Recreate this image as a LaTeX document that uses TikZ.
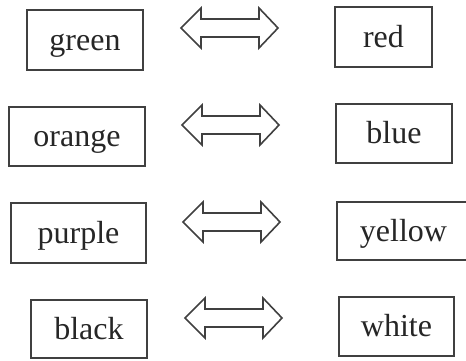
\documentclass[tikz,border=0pt]{standalone}
\usepackage{fontspec}
\setmainfont{Liberation Serif}
\begin{document}
\begin{tikzpicture}[x=1pt,y=-1pt,
  wordbox/.style={draw=black!75,line width=1.6pt,inner sep=0pt,
    text height=28pt,text depth=8pt,text=black!85,
    font=\fontsize{32}{36}\selectfont},
  pics/dblarrow/.style={code={
    \draw[black!75,line width=1.6pt,line join=miter]
      (0,0) -- (20,-20) -- (20,-9) -- (78,-9) -- (78,-20) -- (97,0)
      -- (78,20) -- (78,9) -- (20,9) -- (20,20) -- cycle;}}]
\useasboundingbox (0,0) rectangle (466,360);
\node[wordbox,minimum width=116pt,minimum height=60pt] (green) at (85,40) {green};
\node[wordbox,minimum width=97pt,minimum height=60pt] (red) at (383.5,37) {red};
\node[wordbox,minimum width=136pt,minimum height=59pt] (orange) at (77,136.5) {orange};
\node[wordbox,minimum width=116pt,minimum height=59pt] (blue) at (394,133.5) {blue};
\node[wordbox,minimum width=135pt,minimum height=60pt] (purple) at (78.5,233) {purple};
\node[wordbox,minimum width=133pt,minimum height=58pt] (yellow) at (403.5,231) {yellow};
\node[wordbox,minimum width=116pt,minimum height=58pt] (black) at (89,329) {black};
\node[wordbox,minimum width=115pt,minimum height=59pt] (white) at (396.5,326.5) {white};
\pic at (181,28) {dblarrow};
\pic at (182,125) {dblarrow};
\pic at (183,222) {dblarrow};
\pic at (185,318) {dblarrow};
\end{tikzpicture}
\end{document}
